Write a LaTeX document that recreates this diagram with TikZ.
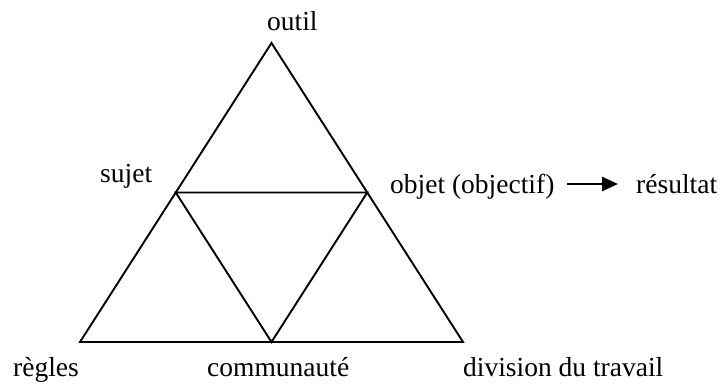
\documentclass[tikz,border=0pt]{standalone}
\usepackage{fontspec}
\setmainfont{Liberation Serif}
\usetikzlibrary{arrows.meta}
\begin{document}
\begin{tikzpicture}[x=1pt,y=-1pt,
  edge/.style={line width=1.9pt, line join=miter},
  lbl/.style={inner sep=0pt, anchor=base west, font=\fontsize{27.5}{30}\selectfont}]
\useasboundingbox (0,0) rectangle (720,383);
\coordinate (A) at (271.5,43);
\coordinate (BL) at (80,342);
\coordinate (BR) at (463,342);
\coordinate (ML) at (175.75,192.5);
\coordinate (MR) at (367.25,192.5);
\coordinate (MB) at (271.5,342);
\draw[edge] (A) -- (BL) -- (BR) -- cycle;
\draw[edge] (ML) -- (MR) -- (MB) -- cycle;
\node[lbl] (outil) at (267,30) {outil};
\node[lbl] (sujet) at (100,182) {sujet};
\node[lbl] (objet) at (390,193) {objet (objectif)};
\node[lbl] (res) at (636,193) {résultat};
\node[lbl] (regles) at (13,376) {règles};
\node[lbl] (comm) at (207,376) {communauté};
\node[lbl] (div) at (463,376) {division du travail};
\draw[line width=2.6pt, -{Triangle[length=16pt,width=14pt]}]
  ([shift={(12pt,9pt)}]objet.base east) -- ([shift={(-18pt,9pt)}]res.base west);
\end{tikzpicture}
\end{document}
